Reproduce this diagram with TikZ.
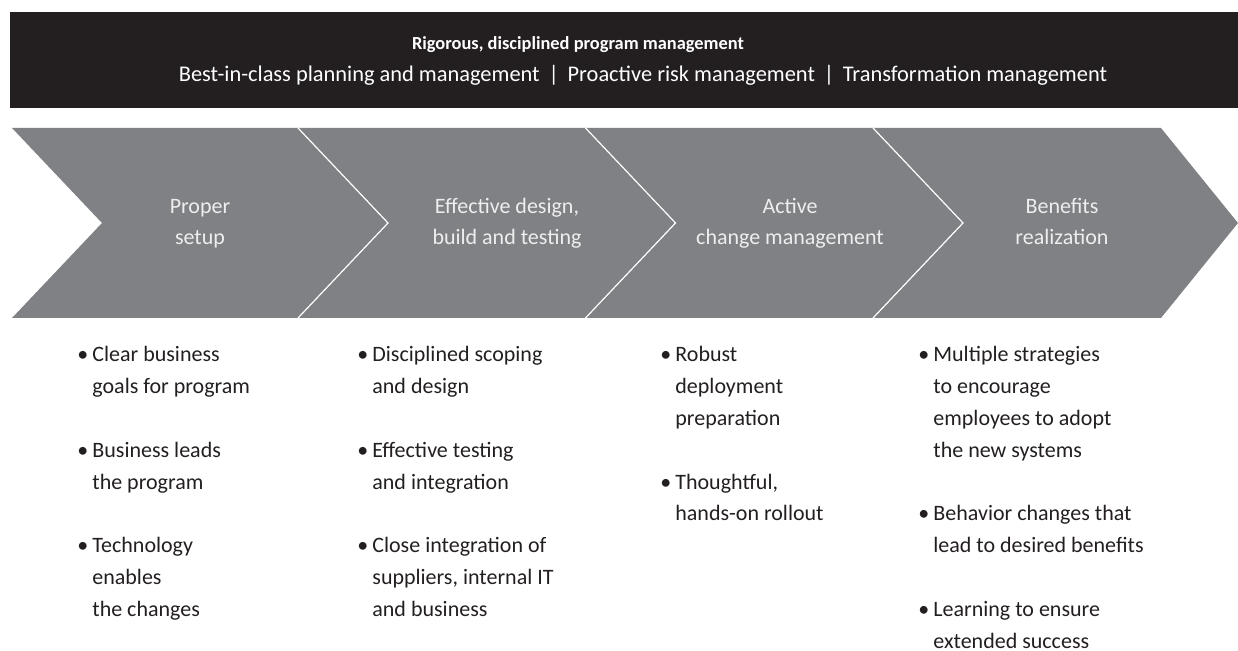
\documentclass[tikz,border=0pt]{standalone}
\usepackage{fontspec}
\setmainfont{Carlito}
\definecolor{bannerblack}{HTML}{231F20}
\definecolor{arrowgrey}{HTML}{808185}
\definecolor{paletext}{HTML}{EEEEEE}
\tikzset{
  banner/.style={anchor=base,text=white,inner sep=0pt},
  lbl/.style={anchor=base,align=center,text=paletext,inner sep=0pt,font=\fontsize{11}{15.8}\selectfont},
  col/.style={anchor=base west,align=left,text=bannerblack,inner sep=0pt,font=\fontsize{11}{15.9}\selectfont},
}
\newcommand{\bul}{\llap{\textbullet\hspace{2pt}}}
\begin{document}
\begin{tikzpicture}[x=0.5pt,y=-0.5pt]
\useasboundingbox (0,0) rectangle (1238,651);
\fill[bannerblack] (10,12) rectangle (1238,108);
\node[banner,font=\bfseries\fontsize{9.2}{11}\selectfont] (title) at (578,50) {Rigorous, disciplined program management};
\node[banner,font=\fontsize{11.2}{13}\selectfont] (sub) at (643,82) {Best-in-class planning and management \,|\, Proactive risk management \,|\, Transformation management};
\fill[arrowgrey] (12,128) -- (1161,128) -- (1238,223) -- (1161,318) -- (12,318) -- (102,223) -- cycle;
\foreach \x in {298,585.5,873}
  \draw[white,line width=0.6pt] (\x,128) -- (\x+90,223) -- (\x,318);
\node[lbl] (setup) at (200,245) {Proper\\setup};
\node[lbl] (design) at (507,245) {Effective design,\\build and testing};
\node[lbl] (change) at (790,245) {Active\\change management};
\node[lbl] (benefits) at (1062,245) {Benefits\\realization};
\node[col] (c1) at (92,616.4) {\bul Clear business\\goals for program\\[15.9pt]\bul Business leads\\the program\\[15.9pt]\bul Technology\\enables\\the changes};
\node[col] (c2) at (372,616.4) {\bul Disciplined scoping\\and design\\[15.9pt]\bul Effective testing\\and integration\\[15.9pt]\bul Close integration of\\suppliers, internal IT\\and business};
\node[col] (c3) at (675,521) {\bul Robust\\deployment\\preparation\\[15.9pt]\bul Thoughtful,\\hands-on rollout};
\node[col] (c4) at (933,648.2) {\bul Multiple strategies\\to encourage\\employees to adopt\\the new systems\\[15.9pt]\bul Behavior changes that\\lead to desired benefits\\[15.9pt]\bul Learning to ensure\\extended success};
\end{tikzpicture}
\end{document}
